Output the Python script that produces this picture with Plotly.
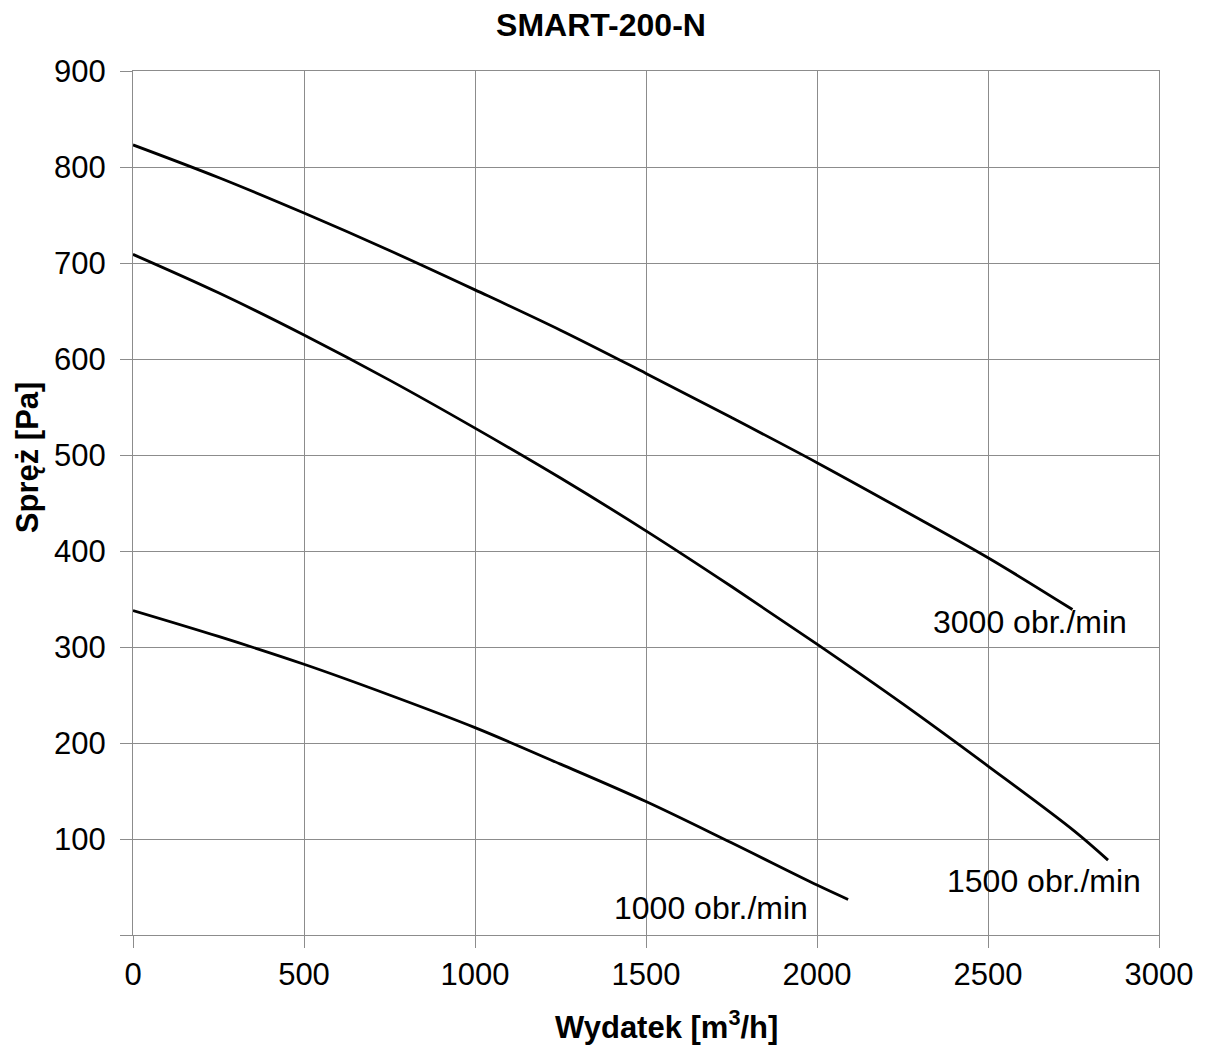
import plotly.graph_objects as go

x_3000 = [0, 250, 500, 750, 1000, 1250, 1500, 1750, 2000, 2250, 2500, 2747]
y_3000 = [823, 789, 752, 713, 672, 630, 585, 539, 492, 443, 393, 339]

x_1500 = [0, 250, 500, 750, 1000, 1250, 1500, 1750, 2000, 2250, 2500, 2750, 2851]
y_1500 = [709, 669, 625, 578, 528, 476, 421, 363, 303, 241, 176, 109, 78]

x_1000 = [0, 250, 500, 750, 1000, 1250, 1500, 1750, 2000, 2091]
y_1000 = [338, 311, 282, 250, 216, 178, 139, 96, 52, 37]

labels = ["3000 obr./min", "1500 obr./min", "1000 obr./min"]
label_x = [2623, 2664, 1690]
label_y = [326, 56, 28]

x_title = "<b>Wydatek [m<sup>3</sup>/h]</b>"
y_title = "<b>Spręż [Pa]</b>"
chart_title = "<b>SMART-200-N</b>"

FONT = "Liberation Sans, Arial, sans-serif"

fig = go.Figure()
for xs, ys in [(x_3000, y_3000), (x_1500, y_1500), (x_1000, y_1000)]:
    fig.add_trace(go.Scatter(x=xs, y=ys, mode="lines",
                             line=dict(color="black", width=2.8, shape="spline", smoothing=1.0),
                             showlegend=False, hoverinfo="skip"))

for t, lx, ly in zip(labels, label_x, label_y):
    fig.add_annotation(x=lx, y=ly, text=t, showarrow=False,
                       font=dict(family=FONT, size=32, color="black"))

# axis titles as annotations (placed like in the reference)
fig.add_annotation(xref="paper", yref="paper", x=0.5195, y=-0.104, text=x_title,
                   showarrow=False, xanchor="center", yanchor="middle",
                   font=dict(family=FONT, size=31, color="black"))
fig.add_annotation(xref="paper", yref="paper", x=-0.1033, y=0.553, text=y_title,
                   showarrow=False, xanchor="center", yanchor="middle", textangle=-90,
                   font=dict(family=FONT, size=31, color="black"))

axis_common = dict(
    showgrid=True, gridcolor="#8c8c8c", gridwidth=1.2,
    ticks="outside", ticklen=12, tickcolor="#8c8c8c", tickwidth=1.2,
    showline=True, linecolor="#8c8c8c", linewidth=1.2, mirror=True,
    zeroline=False,
    tickfont=dict(family=FONT, size=31, color="black"),
)

fig.update_layout(
    width=1197, height=1037,
    paper_bgcolor="white", plot_bgcolor="white",
    margin=dict(l=125, r=46, t=63, b=110),
    title=dict(text=chart_title, x=593 / 1197, xref="container", xanchor="center",
               y=1 - 17 / 1037, yanchor="middle",
               font=dict(family=FONT, size=32, color="black")),
    xaxis=dict(range=[0, 3000], tickvals=[0, 500, 1000, 1500, 2000, 2500, 3000],
               **axis_common),
    yaxis=dict(range=[0, 900], tickvals=[0, 100, 200, 300, 400, 500, 600, 700, 800, 900],
               ticktext=["", "100", "200", "300", "400", "500", "600", "700", "800", "900"],
               ticklabelstandoff=8,
               **axis_common),
)

fig.write_html("out.html")
